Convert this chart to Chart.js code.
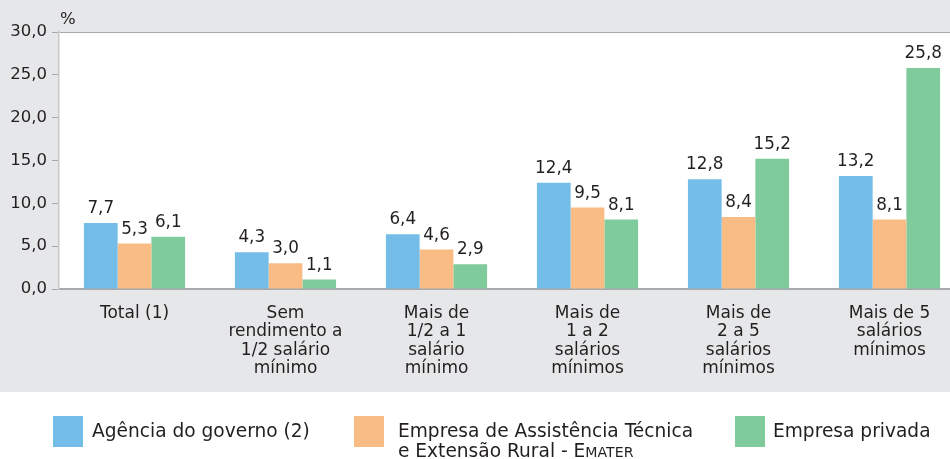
<!DOCTYPE html>
<html>
<head>
<meta charset="utf-8">
<script src="https://cdn.jsdelivr.net/npm/chart.js@4.4.1/dist/chart.umd.min.js"></script>
<style>
  html, body { margin: 0; padding: 0; background: #ffffff; overflow: hidden; width: 950px; height: 459px; }
  #wrap { position: absolute; left: 0; top: 0; width: 972px; height: 459px; }
</style>
</head>
<body>
<div id="wrap"><canvas id="c" width="972" height="459"></canvas></div>
<script>
const categories = [
  "Total (1)",
  ["Sem", "rendimento a", "1/2 salário", "mínimo"],
  ["Mais de", "1/2 a 1", "salário", "mínimo"],
  ["Mais de", "1 a 2", "salários", "mínimos"],
  ["Mais de", "2 a 5", "salários", "mínimos"],
  ["Mais de 5", "salários", "mínimos"]
];
const seriesNames = ["Agência do governo (2)", "Empresa de Assistência Técnica e Extensão Rural - Emater", "Empresa privada"];
const agenciaGoverno = [7.7, 4.3, 6.4, 12.4, 12.8, 13.2];
const emater = [5.3, 3.0, 4.6, 9.5, 8.4, 8.1];
const empresaPrivada = [6.1, 1.1, 2.9, 8.1, 15.2, 25.8];
const yTicks = [0, 5, 10, 15, 20, 25, 30];

const TEXT = '#231f20';
const FONT = '"DejaVu Sans", sans-serif';
const fmt = v => v.toFixed(1).replace('.', ',');
const GREY_BOTTOM = 392;

const bgPlugin = {
  id: 'bg',
  beforeDraw(chart) {
    const {ctx, chartArea: a} = chart;
    ctx.save();
    ctx.fillStyle = '#ffffff';
    ctx.fillRect(0, 0, chart.width, chart.height);
    ctx.fillStyle = '#e6e7e8';
    ctx.fillRect(0, 0, chart.width, GREY_BOTTOM);
    ctx.fillStyle = '#ffffff';
    ctx.fillRect(a.left, a.top, a.right - a.left, a.bottom - a.top);
    ctx.restore();
  },
  afterDraw(chart) {
    const {ctx, chartArea: a} = chart;
    ctx.save();
    ctx.fillStyle = TEXT;
    ctx.font = '16.5px ' + FONT;
    ctx.textAlign = 'left';
    ctx.textBaseline = 'middle';
    ctx.fillText('%', a.left + 1, 20);
    ctx.restore();
  }
};

const legendPlugin = {
  id: 'legendCustom',
  afterDraw(chart) {
    const {ctx} = chart;
    const items = [
      { x: 53, tx: 92, color: chart.data.datasets[0].backgroundColor, lines: [[["Agência do governo (2)", 1]]] },
      { x: 354, tx: 398, color: chart.data.datasets[1].backgroundColor, lines: [[["Empresa de Assistência Técnica", 1]], [["e Extensão Rural - E", 1], ["MATER", 0.76]]] },
      { x: 735, tx: 773, color: chart.data.datasets[2].backgroundColor, lines: [[["Empresa privada", 1]]] }
    ];
    const size = 18.6;
    ctx.save();
    items.forEach(it => {
      ctx.fillStyle = it.color;
      ctx.fillRect(it.x, 416, 30, 31);
      ctx.fillStyle = TEXT;
      ctx.textBaseline = 'alphabetic';
      ctx.textAlign = 'left';
      it.lines.forEach((parts, li) => {
        const base = 436.7 + li * 20.7;
        let cx = it.tx;
        parts.forEach(([t, f]) => {
          ctx.font = (size * f) + 'px ' + FONT;
          ctx.fillText(t, cx, base);
          cx += ctx.measureText(t).width;
        });
      });
    });
    ctx.restore();
  }
};

const labelPlugin = {
  id: 'vals',
  afterDatasetsDraw(chart) {
    const {ctx} = chart;
    ctx.save();
    ctx.fillStyle = TEXT;
    ctx.font = '16.8px ' + FONT;
    ctx.textAlign = 'center';
    ctx.textBaseline = 'alphabetic';
    chart.data.datasets.forEach((ds, di) => {
      chart.getDatasetMeta(di).data.forEach((bar, i) => {
        ctx.fillText(fmt(ds.data[i]), bar.x, bar.y - 10);
      });
    });
    ctx.restore();
  }
};

new Chart(document.getElementById('c'), {
  type: 'bar',
  data: {
    labels: categories,
    datasets: [
      { label: seriesNames[0], data: agenciaGoverno, backgroundColor: '#74bde8' },
      { label: seriesNames[1], data: emater, backgroundColor: '#f9bc85' },
      { label: seriesNames[2], data: empresaPrivada, backgroundColor: '#80cb9b' }
    ]
  },
  options: {
    responsive: false,
    animation: false,
    devicePixelRatio: 1,
    layout: { padding: { top: 32, right: 7, bottom: 459 - GREY_BOTTOM, left: 0 } },
    datasets: { bar: { categoryPercentage: 0.67, barPercentage: 1.0, borderWidth: 0 } },
    plugins: { legend: { display: false }, tooltip: { enabled: false } },
    scales: {
      x: {
        grid: { display: false, drawTicks: false },
        border: { display: true, color: '#a7a9ac', width: 2 },
        ticks: { color: TEXT, font: { family: FONT, size: 17, lineHeight: 1.09 }, padding: 15, maxRotation: 0, autoSkip: false },
        afterFit(s) { s.height = 103; }
      },
      y: {
        min: 0, max: 30,
        afterBuildTicks(s) { s.ticks = yTicks.map(v => ({ value: v })); },
        grid: {
          display: true, drawOnChartArea: true, drawTicks: true, tickLength: 7,
          color: c => (c.tick && c.tick.value === 30) ? '#a7a9ac' : 'rgba(0,0,0,0)',
          tickColor: '#a7a9ac', lineWidth: 1
        },
        border: { display: true, color: '#c7c8ca', width: 1.5 },
        ticks: { color: TEXT, font: { family: FONT, size: 16.5 }, padding: 5, callback: v => fmt(v) },
        afterFit(s) { s.width = 59; }
      }
    }
  },
  plugins: [bgPlugin, labelPlugin, legendPlugin]
});
</script>
</body>
</html>
